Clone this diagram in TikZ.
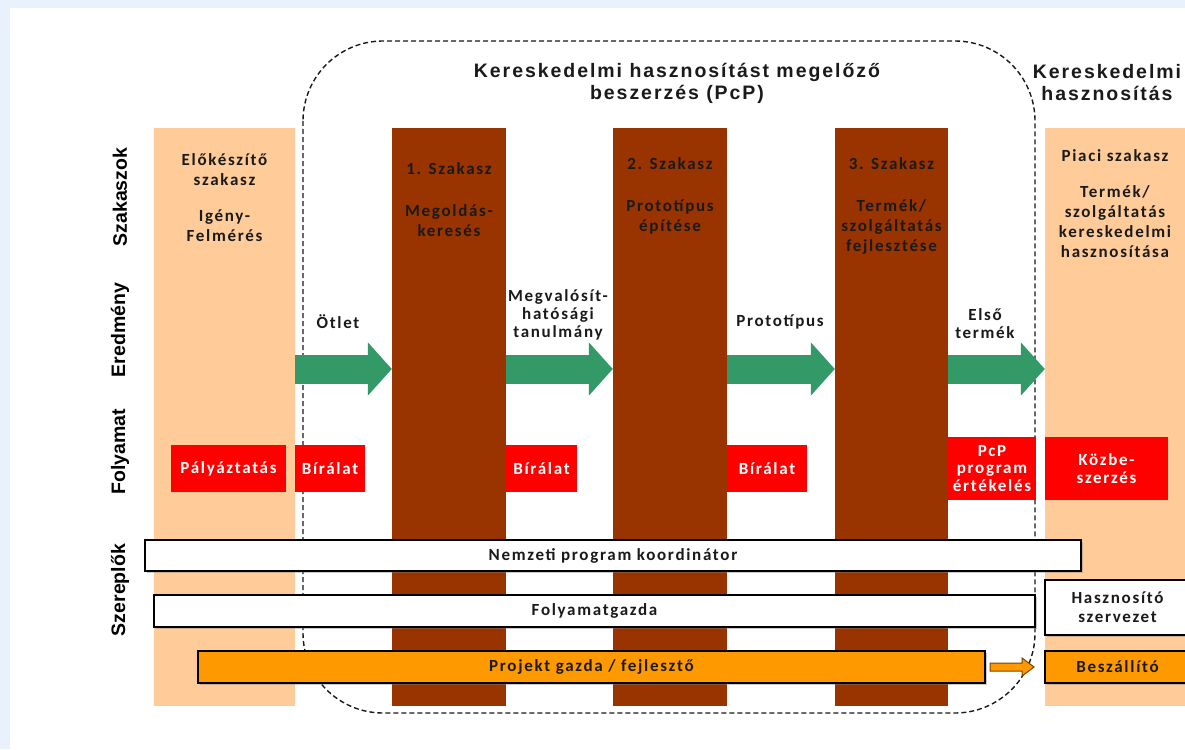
\documentclass[tikz,border=0pt]{standalone}
\usepackage{fontspec}
\setmainfont{Liberation Sans}
\newfontfamily\calfont{Carlito}[LetterSpace=10]
\newfontfamily\arfont{Liberation Sans}[LetterSpace=10]
\usetikzlibrary{arrows.meta,shadows,calc}

\begin{document}
\begin{tikzpicture}[x=1pt,y=-1pt]
\definecolor{bgblue}{RGB}{233,242,252}
\definecolor{peach}{RGB}{255,204,153}
\definecolor{rust}{RGB}{153,51,0}
\definecolor{pgreen}{RGB}{51,153,102}
\definecolor{pred}{RGB}{255,0,0}
\definecolor{porange}{RGB}{255,153,0}
\definecolor{ink}{RGB}{26,26,26}
\definecolor{arrowedge}{RGB}{120,70,0}
\tikzstyle{column}=[inner sep=0pt,minimum height=578pt]
\tikzstyle{prepcol}=[column,fill=peach]
\tikzstyle{stagecol}=[column,fill=rust]
\tikzstyle{coltext}=[anchor=north,align=center,inner sep=0pt,text=ink,font=\calfont\bfseries\fontsize{17}{20}\selectfont]
\tikzstyle{outtext}=[align=center,inner sep=0pt,text=ink,font=\calfont\bfseries\fontsize{17}{18}\selectfont]
\tikzstyle{title}=[align=center,inner sep=0pt,text=ink,font=\arfont\bfseries\fontsize{19.5}{22}\selectfont]
\tikzstyle{rowlabel}=[rotate=90,inner sep=0pt,text=black,font=\bfseries\fontsize{19.5}{20}\selectfont]
\tikzstyle{redbox}=[fill=pred,text=white,align=center,inner sep=0pt,font=\calfont\bfseries\fontsize{17}{17.5}\selectfont]
\tikzstyle{bar}=[draw=black,line width=1.2pt,fill=white,text=ink,align=center,inner sep=0pt,font=\calfont\bfseries\fontsize{17}{19}\selectfont,drop shadow={shadow xshift=1.5pt,shadow yshift=-1.5pt,opacity=.4}]
\tikzstyle{flow}=[line width=29pt,pgreen,-{Triangle[length=24pt,width=52pt]}]
\tikzstyle{pcpframe}=[draw=ink,line width=1.4pt,dash pattern=on 5pt off 3pt,rounded corners=80pt]
\tikzstyle{smallarrow}=[draw=arrowedge,fill=porange,line width=1pt,line join=miter]
\useasboundingbox (0,0) rectangle (1185,749);
\fill[bgblue] (0,0) rectangle (1185,749);
\fill[white] (10,8) rectangle (1185,749);
\draw[pcpframe] (303,41) rectangle (1035,713);
\node[prepcol,minimum width=141pt] (prep) at (224.5,417) {};
\node[stagecol,minimum width=114pt] (s1) at (449,417) {};
\node[stagecol,minimum width=114pt] (s2) at (670,417) {};
\node[stagecol,minimum width=113pt] (s3) at (891.5,417) {};
\node[prepcol,minimum width=145pt] (market) at (1117.5,417) {};
\node[coltext] (preptext) at (224.5,153) {Előkészítő\\szakasz\\[16pt]Igény-\\Felmérés};
\node[coltext] (s1text) at (449,162) {1. Szakasz\\[22pt]Megoldás-\\keresés};
\node[coltext] (s2text) at (670,157) {2. Szakasz\\[22pt]Prototípus\\építése};
\node[coltext] (s3text) at (891.5,157) {3. Szakasz\\[22pt]Termék/\\szolgáltatás\\fejlesztése};
\node[coltext] (markettext) at (1115,149) {Piaci szakasz\\[16pt]Termék/\\szolgáltatás\\kereskedelmi\\hasznosítása};
\node[title] (pcptitle) at (677,83) {Kereskedelmi hasznosítást megelőző\\beszerzés (PcP)};
\node[title] (markettitle) at (1107,83) {Kereskedelmi\\hasznosítás};
\node[rowlabel] (rowstages) at (120,197) {Szakaszok};
\node[rowlabel] (rowresult) at (120,330) {Eredmény};
\node[rowlabel] (rowprocess) at (120,452) {Folyamat};
\node[rowlabel] (rowactors) at (120,590) {Szereplők};
\draw[flow] ([yshift=48pt]prep.east) -- ([yshift=48pt]s1.west);
\draw[flow] ([yshift=48pt]s1.east) -- ([yshift=48pt]s2.west);
\draw[flow] ([yshift=48pt]s2.east) -- ([yshift=48pt]s3.west);
\draw[flow] ([yshift=48pt]s3.east) -- ([yshift=48pt]market.west);
\node[outtext] (idea) at (338,322) {Ötlet};
\node[outtext] (study) at (558,315) {Megvalósít-\\hatósági\\tanulmány};
\node[outtext] (proto) at (780,322) {Prototípus};
\node[outtext] (first) at (985,324) {Első\\termék};
\node[redbox,minimum width=115pt,minimum height=47pt] (tender) at (228.5,468.5) {Pályáztatás};
\node[redbox,minimum width=70pt,minimum height=47pt] (review1) at (330,468.5) {Bírálat};
\node[redbox,minimum width=71pt,minimum height=47pt] (review2) at (541.5,468.5) {Bírálat};
\node[redbox,minimum width=80pt,minimum height=47pt] (review3) at (767,468.5) {Bírálat};
\node[redbox,minimum width=88pt,minimum height=63pt] (evaluation) at (992,468.5) {PcP\\program\\értékelés};
\node[redbox,minimum width=123pt,minimum height=63pt] (procurement) at (1106.5,468.5) {Közbe-\\szerzés};
\node[bar,minimum width=936pt,minimum height=31pt] (coordinator) at (613,555.5) {Nemzeti program koordinátor};
\node[bar,minimum width=881pt,minimum height=32pt] (owner) at (594.5,611) {Folyamatgazda};
\node[bar,minimum width=145pt,minimum height=55pt] (adopter) at (1117.5,607.5) {Hasznosító\\szervezet};
\node[bar,fill=porange,minimum width=787pt,minimum height=32pt] (developer) at (591.5,667) {Projekt gazda / fejlesztő};
\node[bar,fill=porange,minimum width=145pt,minimum height=32pt] (supplier) at (1117.5,667) {Beszállító};
\coordinate (handover) at ($(developer.east)!0.45!(supplier.west)$);
\draw[smallarrow] (handover) ++(-22,-4) -- ++(32,0) -- ++(0,-5) -- ++(12,9) -- ++(-12,9) -- ++(0,-5) -- ++(-32,0) -- cycle;
\end{tikzpicture}
\end{document}
